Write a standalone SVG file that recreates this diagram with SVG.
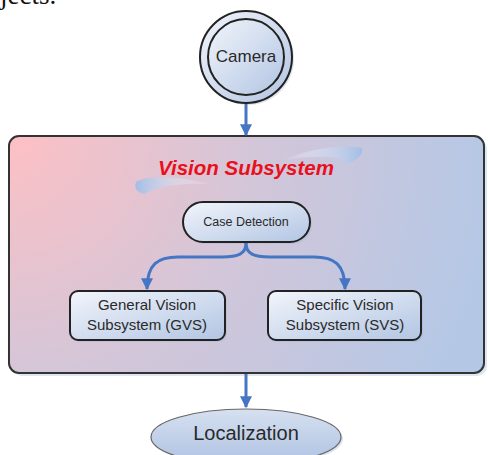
<svg xmlns="http://www.w3.org/2000/svg" width="488" height="455" viewBox="0 0 488 455">
  <defs>
    <radialGradient id="panelFill" gradientUnits="userSpaceOnUse" cx="10" cy="136" r="490">
      <stop offset="0" stop-color="#fdc0c4"/>
      <stop offset="0.5" stop-color="#d3c6d9"/>
      <stop offset="1" stop-color="#b4c8e6"/>
    </radialGradient>
    <linearGradient id="nodeFill" x1="0" y1="0" x2="1" y2="1">
      <stop offset="0" stop-color="#f2f5fb"/>
      <stop offset="1" stop-color="#b2c5e3"/>
    </linearGradient>
    <linearGradient id="ellipseFill" x1="0" y1="0" x2="0" y2="1">
      <stop offset="0" stop-color="#d6e0f0"/>
      <stop offset="1" stop-color="#aec2e2"/>
    </linearGradient>
    <linearGradient id="swooshR" x1="0" y1="0" x2="1" y2="0">
      <stop offset="0" stop-color="#ffffff" stop-opacity="0.1"/>
      <stop offset="1" stop-color="#a3bde5"/>
    </linearGradient>
    <linearGradient id="swooshL" x1="1" y1="0" x2="0" y2="0">
      <stop offset="0" stop-color="#ffffff" stop-opacity="0.1"/>
      <stop offset="1" stop-color="#a3bde5"/>
    </linearGradient>
    <marker id="arrow" viewBox="0 0 10 10" refX="9" refY="5" markerWidth="4" markerHeight="4" orient="auto" markerUnits="strokeWidth">
      <path d="M0,0 L10,5 L0,10 Z" fill="#4576c4"/>
    </marker>
  </defs>
  <style>
    .box { fill: url(#nodeFill); stroke: #222; stroke-width: 2; }
    .shadow { fill: #9fb3d3; opacity: 0.35; }
    .lbl { font-family: "Liberation Sans", Arial, sans-serif; fill: #2a2a2a; text-anchor: middle; }
    .edge { fill: none; stroke: #4576c4; stroke-width: 3; marker-end: url(#arrow); }
  </style>

  <!-- tail of the preceding paragraph line -->
  <text x="-27" y="4" font-family="Liberation Serif, Times New Roman, serif" font-size="27" fill="#111">objects.</text>

  <!-- outer subsystem panel -->
  <g id="vision-subsystem">
    <rect x="12" y="139" width="475" height="237" rx="10" fill="#c8d6ec" opacity="0.6"/>
    <rect x="9" y="136" width="475" height="237" rx="10" fill="url(#panelFill)" stroke="#333" stroke-width="2"/>
    <path d="M285,160 C305,149 340,144 362,148 C364,156 354,162 345,164 C346,157 320,154 285,160 Z" fill="url(#swooshR)"/>
    <path d="M210,184 C185,183 160,185 145,194 C136,193 133,186 137,181 C150,175 180,176 210,184 Z" fill="url(#swooshL)"/>
    <text x="246" y="175" font-family="Liberation Sans, Arial, sans-serif" font-size="20.5" font-weight="bold" font-style="italic" fill="#e8101c" text-anchor="middle">Vision Subsystem</text>
  </g>

  <!-- camera source -->
  <g id="camera">
    <circle cx="248" cy="59" r="46" class="shadow"/>
    <circle cx="246" cy="57" r="46" fill="url(#nodeFill)" stroke="#222" stroke-width="2"/>
    <circle cx="246" cy="57" r="38" fill="url(#nodeFill)" stroke="#222" stroke-width="2"/>
    <text x="246" y="62" class="lbl" font-size="17">Camera</text>
  </g>

  <g id="case-detection">
    <rect x="185" y="204" width="127" height="40" rx="20" class="shadow"/>
    <rect x="183" y="202" width="127" height="40" rx="20" class="box"/>
    <text x="246" y="226" class="lbl" font-size="12.5">Case Detection</text>
  </g>

  <g id="gvs">
    <rect x="72" y="293" width="155" height="49" rx="8" class="shadow"/>
    <rect x="70" y="291" width="155" height="49" rx="8" class="box"/>
    <text x="147" y="310" class="lbl" font-size="15">General Vision</text>
    <text x="147" y="330" class="lbl" font-size="15">Subsystem (GVS)</text>
  </g>

  <g id="svs">
    <rect x="270" y="293" width="153" height="49" rx="8" class="shadow"/>
    <rect x="268" y="291" width="153" height="49" rx="8" class="box"/>
    <text x="345" y="310" class="lbl" font-size="15">Specific Vision</text>
    <text x="345" y="330" class="lbl" font-size="15">Subsystem (SVS)</text>
  </g>

  <g id="localization">
    <ellipse cx="248" cy="439" rx="95" ry="28" class="shadow"/>
    <ellipse cx="246" cy="437" rx="95" ry="28" fill="url(#ellipseFill)" stroke="#666" stroke-width="1.2"/>
    <text x="246" y="440" class="lbl" font-size="20">Localization</text>
  </g>

  <!-- connectors -->
  <g id="connectors">
    <line x1="246" y1="104" x2="246" y2="135" class="edge"/>
    <path d="M246,243 C246,254 238,257 222,257 L178,257 C158,257 147,264 147,289" class="edge"/>
    <path d="M246,243 C246,254 254,257 270,257 L314,257 C334,257 345,264 345,289" class="edge"/>
    <line x1="246" y1="374" x2="246" y2="407" class="edge"/>
  </g>
</svg>
